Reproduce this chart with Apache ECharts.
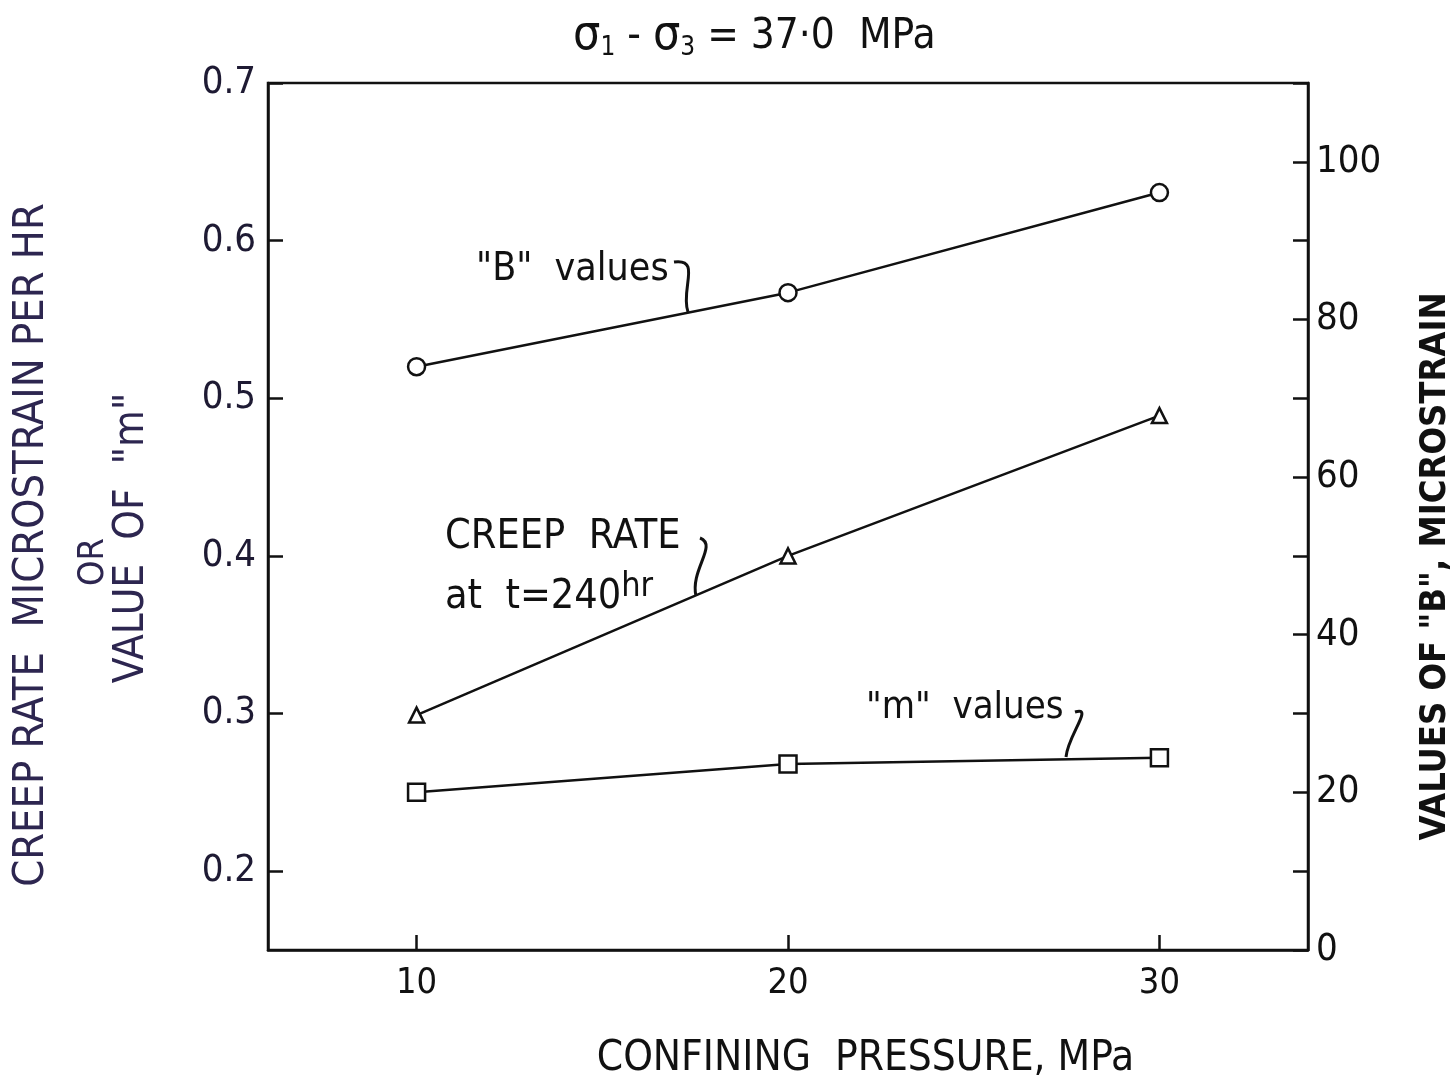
<!DOCTYPE html>
<html>
<head>
<meta charset="utf-8">
<script src="https://cdn.jsdelivr.net/npm/echarts@6/dist/echarts.min.js"></script>
<style>
  html, body { margin: 0; padding: 0; background: #fff; }
  #chart { width: 1451px; height: 1081px; }
</style>
</head>
<body>
<div id="chart"></div>
<script>
// confining pressure, MPa
var pressure = [10, 20, 30];
// "B" values (right axis, microstrain)
var bValues = [74.0, 83.4, 96.1];
// creep rate at t=240hr (left axis, microstrain per hr)
var creepRate = [0.299, 0.400, 0.489];
// "m" values (left axis)
var mValues = [0.250, 0.268, 0.272];

var xTicks = [10, 20, 30];
var leftTicks = [0.2, 0.3, 0.4, 0.5, 0.6, 0.7];

var FONT = "'DejaVu Sans Condensed', 'Liberation Sans Narrow', 'DejaVu Sans', sans-serif";
var INK = '#111';
var PURPLE = '#2d2650';

function makeChart() {
  var chart = echarts.init(document.getElementById('chart'));

  function pairs(ys) {
    return pressure.map(function (p, i) { return [p, ys[i]]; });
  }

  var lineStyle = { color: INK, width: 2.5 };
  var itemStyle = { color: '#fff', borderColor: INK, borderWidth: 2.5 };
  var axisLineStyle = { color: INK, width: 2.5 };

  function vText(x, y, text, size) {
    return { type: 'text', x: x, y: y, rotation: Math.PI / 2,
      style: { text: text, font: size + 'px ' + FONT, fill: PURPLE,
        align: 'center', verticalAlign: 'middle', textAlign: 'center', textVerticalAlign: 'middle' } };
  }

  option = {
    backgroundColor: '#fff',
    animation: false,
    title: {
      text: '{s|σ}{sub|1}{t| - }{s|σ}{sub|3}{t| = 37·0  MPa}',
      left: 568,
      top: 8,
      textStyle: {
        fontFamily: FONT,
        fontSize: 40,
        fontWeight: 'normal',
        color: INK,
        rich: {
          t: { fontFamily: FONT, fontSize: 42, color: INK },
          s: { fontFamily: FONT, fontSize: 48, color: INK },
          sub: { fontFamily: FONT, fontSize: 26, color: INK, padding: [22, 0, 0, 0] }
        }
      }
    },
    grid: {
      left: 268,
      right: 143,
      top: 83,
      bottom: 131,
      outerBoundsMode: 'none',
      containLabel: false,
      show: true,
      borderColor: INK,
      borderWidth: 2.5,
      backgroundColor: 'transparent'
    },
    xAxis: {
      type: 'value',
      min: 6,
      max: 34,
      name: 'CONFINING  PRESSURE, MPa',
      nameLocation: 'middle',
      nameGap: 88,
      nameTextStyle: { fontFamily: FONT, fontSize: 42, color: INK, padding: [0, 0, 0, 155] },
      axisLine: { lineStyle: axisLineStyle },
      axisTick: { inside: true, length: 15, lineStyle: axisLineStyle, customValues: xTicks },
      axisLabel: { margin: 16, fontFamily: FONT, fontSize: 36, color: INK, customValues: xTicks },
      splitLine: { show: false }
    },
    yAxis: [{
      type: 'value',
      min: 0.15,
      max: 0.7,
      axisLine: { show: true, lineStyle: axisLineStyle },
      axisTick: { show: true, inside: true, length: 15, lineStyle: axisLineStyle, customValues: leftTicks },
      axisLabel: {
        margin: 12, fontFamily: FONT, fontSize: 38, color: '#1e1a33',
        customValues: leftTicks,
        formatter: function (v) { return v.toFixed(1); }
      },
      splitLine: { show: false }
    }, {
      type: 'value',
      min: 0,
      max: 110,
      interval: 10,
      position: 'right',
      name: 'VALUES OF "B", MICROSTRAIN',
      nameLocation: 'middle',
      nameRotate: 90,
      nameGap: 110,
      nameTextStyle: { fontFamily: FONT, fontSize: 36, fontWeight: 'bold', color: INK, padding: [0, 100, 0, 0] },
      axisLine: { show: true, lineStyle: axisLineStyle },
      axisTick: { show: true, inside: true, length: 15, lineStyle: axisLineStyle },
      axisLabel: {
        margin: 8, fontFamily: FONT, fontSize: 38, color: INK,
        formatter: function (v) { return (v % 20 === 0 && v <= 100) ? String(v) : ''; }
      },
      splitLine: { show: false }
    }],
    series: [{
      name: '"B" values',
      type: 'line',
      yAxisIndex: 1,
      data: pairs(bValues),
      symbol: 'circle',
      symbolSize: 17,
      lineStyle: lineStyle,
      itemStyle: itemStyle
    }, {
      name: 'CREEP RATE at t=240hr',
      type: 'line',
      yAxisIndex: 0,
      data: pairs(creepRate),
      symbol: 'triangle',
      symbolSize: 15,
      lineStyle: lineStyle,
      itemStyle: itemStyle
    }, {
      name: '"m" values',
      type: 'line',
      yAxisIndex: 0,
      data: pairs(mValues),
      symbol: 'rect',
      symbolSize: 17,
      lineStyle: lineStyle,
      itemStyle: itemStyle
    }],
    graphic: [
      // left axis title, three rotated lines
      vText(32, 545, 'CREEP RATE  MICROSTRAIN PER HR', 43),
      vText(94, 562, 'OR', 36),
      vText(132, 538, 'VALUE  OF  "m"', 42),
      // curve labels
      { type: 'text', x: 476, y: 270,
        style: { text: '"B"  values', font: '39px ' + FONT, fill: INK, verticalAlign: 'middle', textVerticalAlign: 'middle' } },
      { type: 'bezierCurve', shape: { x1: 674, y1: 262, x2: 688, y2: 312, cpx1: 702, cpy1: 258, cpx2: 680, cpy2: 290 },
        style: { stroke: INK, lineWidth: 3, fill: null } },
      { type: 'text', x: 445, y: 537,
        style: { text: 'CREEP  RATE', font: '41px ' + FONT, fill: INK, verticalAlign: 'middle', textVerticalAlign: 'middle' } },
      { type: 'text', x: 445, y: 597,
        style: { text: '{a|at  t=240}{b|hr}', font: '41px ' + FONT, fill: INK, verticalAlign: 'middle', textVerticalAlign: 'middle',
          rich: { a: { font: '41px ' + FONT, fill: INK }, b: { font: '34px ' + FONT, fill: INK, padding: [0, 0, 20, 0] } } } },
      { type: 'bezierCurve', shape: { x1: 700, y1: 538, x2: 696, y2: 596, cpx1: 718, cpy1: 545, cpx2: 690, cpy2: 570 },
        style: { stroke: INK, lineWidth: 3, fill: null } },
      { type: 'text', x: 866, y: 708,
        style: { text: '"m"  values', font: '38px ' + FONT, fill: INK, verticalAlign: 'middle', textVerticalAlign: 'middle' } },
      { type: 'bezierCurve', shape: { x1: 1075, y1: 712, x2: 1066, y2: 757, cpx1: 1094, cpy1: 706, cpx2: 1068, cpy2: 735 },
        style: { stroke: INK, lineWidth: 3, fill: null } }
    ]
  };
  chart.setOption(option);
}

makeChart();
</script>
</body>
</html>
